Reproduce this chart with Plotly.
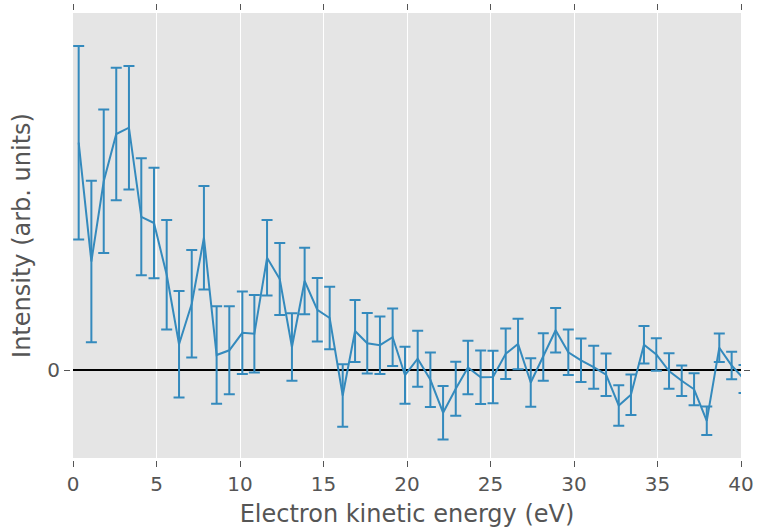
import plotly.graph_objects as go

# Electron kinetic energy (eV)
energy = [0.34, 1.10, 1.84, 2.59, 3.35, 4.09, 4.85, 5.61, 6.35, 7.11,
          7.84, 8.60, 9.36, 10.14, 10.86, 11.62, 12.38, 13.11, 13.87, 14.63,
          15.37, 16.15, 16.89, 17.62, 18.38, 19.14, 19.88, 20.64, 21.40, 22.16,
          22.92, 23.65, 24.41, 25.15, 25.91, 26.65, 27.41, 28.16, 28.90, 29.66,
          30.42, 31.18, 31.92, 32.68, 33.41, 34.19, 34.93, 35.69, 36.45, 37.19,
          37.95, 38.70, 39.44, 40.18]

# Intensity (arb. units)
intensity = [2.273, 1.085, 1.887, 2.360, 2.423, 1.532, 1.470, 0.952, 0.258, 0.663,
             1.322, 0.150, 0.197, 0.372, 0.362, 1.122, 0.910, 0.230, 0.890, 0.602,
             0.520, -0.255, 0.390, 0.268, 0.248, 0.328, -0.052, 0.113, -0.098, -0.427,
             -0.187, 0.025, -0.073, -0.070, 0.162, 0.260, -0.125, 0.130, 0.397, 0.177,
             0.097, 0.028, -0.047, -0.355, -0.248, 0.253, 0.155, -0.010, -0.108, -0.193,
             -0.508, 0.223, 0.045, -0.090]

# Error (arb. units)
error = [0.967, 0.808, 0.717, 0.663, 0.617, 0.585, 0.553, 0.548, 0.532, 0.537,
         0.518, 0.487, 0.440, 0.412, 0.388, 0.378, 0.360, 0.337, 0.333, 0.318,
         0.313, 0.312, 0.310, 0.302, 0.288, 0.288, 0.285, 0.280, 0.272, 0.267,
         0.270, 0.268, 0.267, 0.263, 0.252, 0.253, 0.242, 0.237, 0.223, 0.227,
         0.217, 0.215, 0.213, 0.202, 0.202, 0.187, 0.162, 0.177, 0.152, 0.160,
         0.142, 0.143, 0.138, 0.140]

x_ticks = [0, 5, 10, 15, 20, 25, 30, 35, 40]
y_ticks = [0]

blue = "#348ABD"
gray = "#555555"

fig = go.Figure()
fig.add_trace(go.Scatter(
    x=energy, y=intensity, mode="lines",
    line=dict(color=blue, width=2),
    error_y=dict(type="data", array=error, visible=True,
                 color=blue, thickness=2, width=5.5),
    showlegend=False,
))

fig.update_layout(
    width=757, height=528,
    margin=dict(l=73, r=16, t=13, b=70, autoexpand=False),
    paper_bgcolor="white",
    plot_bgcolor="#E5E5E5",
    font=dict(family="DejaVu Sans", color=gray, size=20),
)

fig.update_xaxes(
    range=[0, 40],
    tickvals=x_ticks,
    ticks="outside", ticklen=6, tickwidth=1, tickcolor=gray,
    showline=True, linecolor="white", linewidth=3, mirror="ticks",
    showgrid=True, gridcolor="white", gridwidth=1.2,
    zeroline=False,
    tickfont=dict(size=20, color=gray),
    title=dict(text="Electron kinetic energy (eV)", font=dict(size=24, color=gray), standoff=12),
    automargin=False,
)
fig.update_yaxes(
    range=[-0.88, 3.57],
    tickvals=y_ticks,
    ticks="outside", ticklen=6, tickwidth=1, tickcolor=gray,
    showline=True, linecolor="white", linewidth=3, mirror="ticks",
    showgrid=False,
    zeroline=True, zerolinecolor="black", zerolinewidth=2,
    tickfont=dict(size=20, color=gray),
    title=dict(text="Intensity (arb. units)", font=dict(size=24, color=gray), standoff=10),
    automargin=False,
)

fig.write_html("out.html")
